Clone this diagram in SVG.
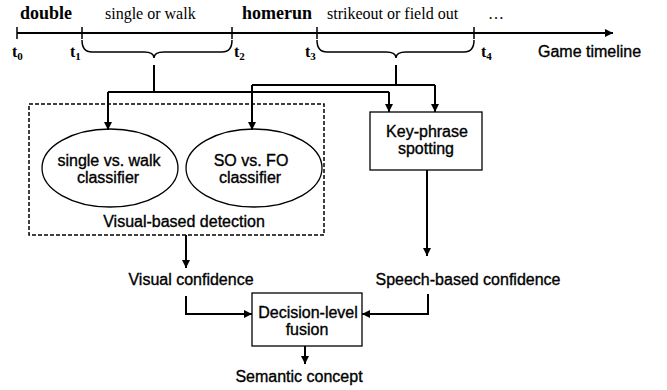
<svg xmlns="http://www.w3.org/2000/svg" width="667" height="390" viewBox="0 0 667 390">
<defs>
<marker id="ah" viewBox="0 0 10 10" refX="10" refY="5" markerWidth="10" markerHeight="8" markerUnits="userSpaceOnUse" orient="auto">
<path d="M0,0 L10,5 L0,10 z" fill="#000"/>
</marker>
</defs>
<style>
.serif{font-family:"Liberation Serif","Times New Roman",serif;fill:#000}
.bold{font-weight:bold}
.sans{font-family:"Liberation Sans",Arial,sans-serif;font-size:16px;fill:#000;stroke:#000;stroke-width:0.35}
.line{fill:none;stroke:#000;stroke-width:2}
.arrow{fill:none;stroke:#000;stroke-width:2;marker-end:url(#ah)}
.thin{fill:none;stroke:#000;stroke-width:1.5}
.shape{fill:#fff;stroke:#000;stroke-width:1.3}
.dash{fill:none;stroke:#000;stroke-width:1.5;stroke-dasharray:4,2}
</style>
<rect width="667" height="390" fill="#fff"/>
<g id="timeline">
<path class="arrow" d="M17,33 H613" stroke-width="2.4"/>
<path class="thin" d="M17,27 V39 M82,27 V39 M232,27 V39 M317,27 V39 M474,27 V39"/>
<path class="thin" d="M82,40 Q82,52 92,52 L144,52 Q154,52 154,58 Q154,52 164,52 L222,52 Q232,52 232,40"/>
<path class="thin" d="M317,40 Q317,52 327,52 L386,52 Q396,52 396,58 Q396,52 406,52 L464,52 Q474,52 474,40"/>
<text class="serif bold" x="20" y="19" font-size="18">double</text>
<text class="serif" x="105" y="19" font-size="16">single or walk</text>
<text class="serif bold" x="242" y="19" font-size="18">homerun</text>
<text class="serif" x="327" y="19" font-size="16">strikeout or field out</text>
<text class="serif" x="488" y="19" font-size="16">…</text>
<text class="serif bold" x="12" y="57" font-size="16">t<tspan dy="3" font-size="11">0</tspan></text>
<text class="serif bold" x="70" y="57" font-size="16">t<tspan dy="3" font-size="11">1</tspan></text>
<text class="serif bold" x="234" y="57" font-size="16">t<tspan dy="3" font-size="11">2</tspan></text>
<text class="serif bold" x="305" y="57" font-size="16">t<tspan dy="3" font-size="11">3</tspan></text>
<text class="serif bold" x="481" y="57" font-size="16">t<tspan dy="3" font-size="11">4</tspan></text>
<text class="sans" x="538" y="57">Game timeline</text>
</g>
<g id="visual-detection">
<rect class="dash" x="29" y="104" width="295" height="131"/>
<text class="sans" x="184" y="227" text-anchor="middle">Visual-based detection</text>
</g>
<g id="single-walk">
<ellipse class="shape" cx="110" cy="168" rx="68" ry="39"/>
<text class="sans" x="109" y="166" text-anchor="middle">single vs. walk</text>
<text class="sans" x="108" y="183" text-anchor="middle">classifier</text>
</g>
<g id="so-fo">
<ellipse class="shape" cx="254" cy="168" rx="68" ry="39"/>
<text class="sans" x="251" y="166" text-anchor="middle">SO vs. FO</text>
<text class="sans" x="250" y="183" text-anchor="middle">classifier</text>
</g>
<g id="keyphrase">
<rect class="shape" x="370" y="112" width="112" height="58"/>
<text class="sans" x="427" y="137" text-anchor="middle">Key-phrase</text>
<text class="sans" x="426" y="154" text-anchor="middle">spotting</text>
</g>
<g id="visual-confidence">
<text class="sans" x="191" y="285" text-anchor="middle">Visual confidence</text>
</g>
<g id="speech-confidence">
<text class="sans" x="468" y="285" text-anchor="middle">Speech-based confidence</text>
</g>
<g id="fusion">
<rect class="shape" x="252" y="293" width="110" height="53"/>
<text class="sans" x="308" y="318" text-anchor="middle">Decision-level</text>
<text class="sans" x="307" y="335" text-anchor="middle">fusion</text>
</g>
<g id="semantic">
<text class="sans" x="299" y="382" text-anchor="middle">Semantic concept</text>
</g>
<g id="connectors">
<path class="line" d="M154,65 V92 M108,92 H389"/>
<path class="arrow" d="M108,92 V130"/>
<path class="arrow" d="M389,92 V112"/>
<path class="line" d="M396,65 V85 M252,85 H435"/>
<path class="arrow" d="M252,85 V130"/>
<path class="arrow" d="M435,85 V112"/>
<path class="arrow" d="M427,170 V256"/>
<path class="arrow" d="M186,235 V268"/>
<path class="arrow" d="M186,296 V314 H252"/>
<path class="arrow" d="M428,294 V314 H362"/>
<path class="arrow" d="M305,346 V364"/>
</g>
</svg>
